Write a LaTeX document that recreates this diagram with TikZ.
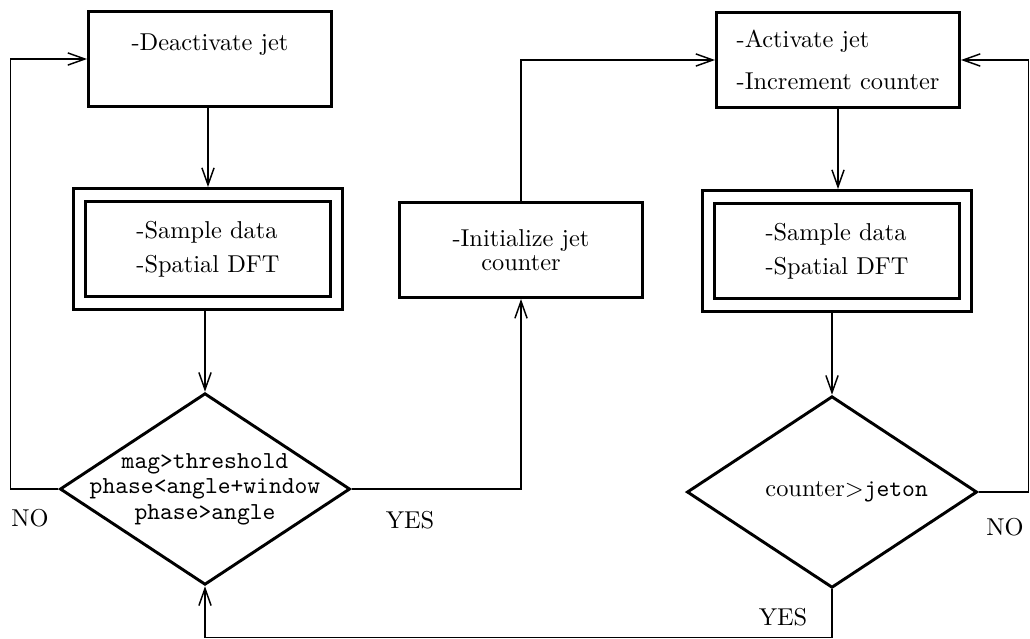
\documentclass[tikz,border=0pt]{standalone}
\usetikzlibrary{arrows.meta, shapes.geometric}
\tikzset{
  box/.style={draw, line width=1.2pt, minimum width=3.5cm, minimum height=1.37cm, inner sep=2pt},
  dbox/.style={draw, line width=1.2pt, double, double distance=4pt, outer sep=3.2pt,
    minimum width=3.7cm, minimum height=1.56cm, align=left},
  decision/.style={diamond, draw, line width=1.2pt, inner sep=0pt,
    minimum width=4.18cm, minimum height=2.76cm},
  flow/.style={-{Straight Barb[length=7pt, width=5pt]}, line width=0.6pt}
}
\begin{document}
\begin{tikzpicture}[x=0.0144cm, y=-0.0144cm]
\useasboundingbox (0,0) rectangle (1030,638);
% left column
\node[box, align=center] (deact) at (210,59) {-Deactivate jet\\[-2pt] \strut};
\node[dbox] (sample1) at (208,249) {-Sample data\\[2pt]-Spatial DFT};
\node[decision, label={[align=center, font=\ttfamily\fontsize{10}{10.5}\selectfont]center:mag>threshold\\phase<angle+window\\phase>angle}] (test1) at (205,489) {};
% middle
\node[box, align=center] (init) at (521,250) {-Initialize jet\\[-2pt]counter};
% right column
\node[box, align=left] (act) at (838,60) {-Activate jet\\[5pt]-Increment counter};
\node[dbox] (sample2) at (837,251) {-Sample data\\[2pt]-Spatial DFT};
\node[decision, label={[xshift=6pt]center:counter$>$\texttt{jeton}}] (test2) at (832,492) {};
% branch labels
\node (no1) at (30,518) {NO};
\node (yes1) at (410,520) {YES};
\node (no2) at (1005,527) {NO};
\node (yes2) at (783,617) {YES};
% connectors
\draw[flow] (sample1.north |- deact.south) -- (sample1.north);
\draw[flow] (test1.north |- sample1.south) -- (test1.north);
\draw[flow] (test1.west) -- ++(-48,0) |- (deact.west);
\draw[flow] (test1.east) -| (init.south);
\draw[flow] (init.north) |- (act.west);
\draw[flow] (act.south) -- (act.south |- sample2.north);
\draw[flow] (sample2.south -| test2.north) -- (test2.north);
\draw[flow] (test2.east) -- ++(50,0) |- (act.east);
\draw[flow] (test2.south) -- ++(0,48) -| (test1.south);
\end{tikzpicture}
\end{document}
